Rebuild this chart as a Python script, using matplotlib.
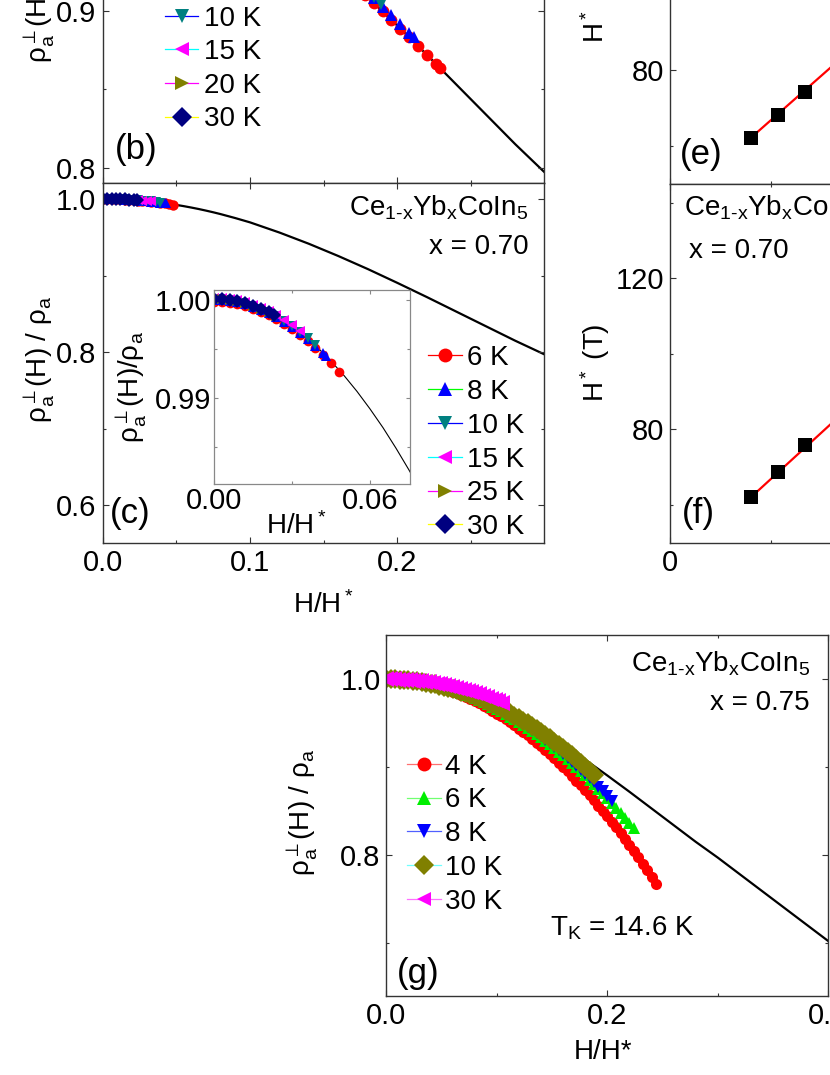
import matplotlib
matplotlib.use('Agg')
import matplotlib.pyplot as plt
from matplotlib.lines import Line2D
from matplotlib.ticker import MultipleLocator, FormatStrFormatter

plt.rcParams['font.family'] = ['Liberation Sans', 'DejaVu Sans']
plt.rcParams['mathtext.fontset'] = 'custom'
plt.rcParams['mathtext.rm'] = 'Liberation Sans'
plt.rcParams['mathtext.it'] = 'Liberation Sans:italic'
plt.rcParams['mathtext.bf'] = 'Liberation Sans:bold'
plt.rcParams['mathtext.default'] = 'regular'
plt.rcParams['mathtext.fallback'] = 'stixsans'

# ---------------- data ----------------
# universal (single-ion) curve rho(H)/rho(0) vs H/H*
curve_x = [0.000, 0.010, 0.020, 0.030, 0.040, 0.045, 0.050, 0.055, 0.060, 0.065, 0.070, 0.075,
           0.080, 0.090, 0.100, 0.120, 0.140, 0.160, 0.180, 0.200, 0.220, 0.240, 0.260, 0.280,
           0.300, 0.320, 0.340, 0.360, 0.380, 0.400]
curve_y = [1.0000, 0.9997, 0.9988, 0.9972, 0.9951, 0.99376, 0.9923, 0.99068, 0.9889, 0.98699,
           0.9849, 0.98268, 0.9803, 0.9751, 0.9695, 0.9562, 0.9415, 0.9255, 0.9085, 0.8905,
           0.8720, 0.8530, 0.8340, 0.8150, 0.7970, 0.7780, 0.7590, 0.7400, 0.7210, 0.7020]

# panel (b): visible part only
b_x_6K = [0.160, 0.166, 0.172, 0.178, 0.184, 0.190, 0.196, 0.202, 0.208, 0.214, 0.220, 0.226, 0.229]
b_y_6K = [0.9255, 0.9205, 0.9153, 0.9102, 0.9050, 0.8996, 0.8941, 0.8887, 0.8831, 0.8776, 0.8720, 0.8663, 0.8635]
b_x_8K = [0.160, 0.166, 0.172, 0.178, 0.184, 0.190, 0.196, 0.202, 0.208, 0.211]
b_y_8K = [0.9285, 0.9235, 0.9183, 0.9132, 0.9080, 0.9026, 0.8971, 0.8917, 0.8861, 0.8830]
b_x_10K = [0.160, 0.166, 0.172, 0.178, 0.184, 0.189]
b_y_10K = [0.9290, 0.9240, 0.9188, 0.9137, 0.9085, 0.9045]
b_x_15K = [0.150, 0.160, 0.170]
b_y_15K = [0.936, 0.929, 0.921]
b_x_20K = [0.130, 0.140, 0.150]
b_y_20K = [0.952, 0.945, 0.937]
b_x_30K = [0.110, 0.120, 0.130]
b_y_30K = [0.966, 0.959, 0.952]

# panel (c) and its inset, x = 0.70
c_x_6K = [0.000, 0.003, 0.006, 0.009, 0.012, 0.015, 0.018, 0.021, 0.024, 0.027, 0.030, 0.033,
          0.036, 0.039, 0.042, 0.045, 0.048]
c_y_6K = [0.99980, 0.99977, 0.99969, 0.99955, 0.99936, 0.99911, 0.99880, 0.99844, 0.99803,
          0.99755, 0.99703, 0.99645, 0.99581, 0.99512, 0.99437, 0.99356, 0.99270]
c_x_8K = [0.000, 0.003, 0.006, 0.009, 0.012, 0.015, 0.018, 0.021, 0.024, 0.027, 0.030, 0.033,
          0.036, 0.039, 0.042, 0.043]
c_y_8K = [1.00000, 0.99997, 0.99989, 0.99975, 0.99956, 0.99931, 0.99900, 0.99864, 0.99823,
          0.99775, 0.99723, 0.99665, 0.99601, 0.99532, 0.99457, 0.99430]
c_x_10K = [0.000, 0.003, 0.006, 0.009, 0.012, 0.015, 0.018, 0.021, 0.024, 0.027, 0.030, 0.033,
           0.036, 0.039]
c_y_10K = [1.00010, 1.00007, 0.99999, 0.99985, 0.99966, 0.99941, 0.99910, 0.99874, 0.99833,
           0.99785, 0.99733, 0.99675, 0.99611, 0.99542]
c_x_15K = [0.000, 0.003, 0.006, 0.009, 0.012, 0.015, 0.018, 0.021, 0.024, 0.027, 0.030, 0.033]
c_y_15K = [1.00020, 1.00017, 1.00009, 0.99995, 0.99976, 0.99951, 0.99920, 0.99884, 0.99843,
           0.99795, 0.99743, 0.99685]
c_x_25K = [0.000, 0.003, 0.006, 0.009, 0.012, 0.015, 0.018, 0.021, 0.024]
c_y_25K = [1.00010, 1.00007, 0.99999, 0.99985, 0.99966, 0.99941, 0.99910, 0.99874, 0.99833]
c_x_30K = [0.000, 0.003, 0.006, 0.009, 0.012, 0.015, 0.018, 0.021, 0.023]
c_y_30K = [1.00010, 1.00007, 0.99999, 0.99985, 0.99966, 0.99941, 0.99910, 0.99874, 0.99847]

# panel (g), x = 0.75 (field sweeps read at H/H* steps of 0.004)
g_x_4K = [0.000, 0.004, 0.008, 0.012, 0.016, 0.020, 0.024, 0.028, 0.032, 0.036, 0.040, 0.044,
          0.048, 0.052, 0.056, 0.060, 0.064, 0.068, 0.072, 0.076, 0.080, 0.084, 0.088, 0.092,
          0.096, 0.100, 0.104, 0.108, 0.112, 0.116, 0.120, 0.124, 0.128, 0.132, 0.136, 0.140,
          0.144, 0.148, 0.152, 0.156, 0.160, 0.164, 0.168, 0.172, 0.176, 0.180, 0.184, 0.188,
          0.192, 0.196, 0.200, 0.204, 0.208, 0.212, 0.216, 0.220, 0.224, 0.228, 0.232, 0.236,
          0.240, 0.244]
g_y_4K = [1.0000, 0.9999, 0.9998, 0.9994, 0.9990, 0.9984, 0.9978, 0.9969, 0.9960, 0.9949,
          0.9938, 0.9924, 0.9910, 0.9895, 0.9878, 0.9860, 0.9840, 0.9820, 0.9798, 0.9775,
          0.9750, 0.9725, 0.9698, 0.9670, 0.9641, 0.9610, 0.9578, 0.9545, 0.9511, 0.9475,
          0.9438, 0.9400, 0.9361, 0.9320, 0.9279, 0.9236, 0.9191, 0.9146, 0.9099, 0.9051,
          0.9002, 0.8951, 0.8899, 0.8846, 0.8792, 0.8736, 0.8680, 0.8622, 0.8562, 0.8502,
          0.8440, 0.8377, 0.8313, 0.8247, 0.8180, 0.8112, 0.8043, 0.7973, 0.7901, 0.7828,
          0.7754, 0.7665]
g_x_6K = g_x_4K[:57]
g_y_6K = [1.0000, 0.9999, 0.9998, 0.9995, 0.9991, 0.9986, 0.9981, 0.9974, 0.9965, 0.9956,
          0.9946, 0.9935, 0.9922, 0.9909, 0.9894, 0.9878, 0.9862, 0.9844, 0.9825, 0.9805,
          0.9784, 0.9762, 0.9738, 0.9714, 0.9688, 0.9662, 0.9634, 0.9606, 0.9576, 0.9545,
          0.9513, 0.9480, 0.9446, 0.9411, 0.9375, 0.9338, 0.9299, 0.9260, 0.9219, 0.9177,
          0.9135, 0.9091, 0.9046, 0.9000, 0.8953, 0.8905, 0.8856, 0.8805, 0.8754, 0.8702,
          0.8648, 0.8593, 0.8538, 0.8481, 0.8423, 0.8364, 0.8304]
g_x_8K = g_x_4K[:52]
g_y_8K = [1.0000, 0.9999, 0.9998, 0.9995, 0.9992, 0.9987, 0.9981, 0.9974, 0.9966, 0.9957,
          0.9947, 0.9936, 0.9924, 0.9910, 0.9896, 0.9880, 0.9864, 0.9846, 0.9828, 0.9808,
          0.9788, 0.9766, 0.9743, 0.9719, 0.9694, 0.9668, 0.9641, 0.9613, 0.9584, 0.9553,
          0.9522, 0.9490, 0.9456, 0.9422, 0.9386, 0.9349, 0.9312, 0.9273, 0.9233, 0.9192,
          0.9150, 0.9107, 0.9063, 0.9018, 0.8972, 0.8924, 0.8876, 0.8827, 0.8776, 0.8725,
          0.8672, 0.8618]
g_x_10K = g_x_4K[:48]
g_y_10K = [1.0000, 1.0000, 0.9998, 0.9996, 0.9992, 0.9988, 0.9982, 0.9976, 0.9969, 0.9960,
           0.9951, 0.9941, 0.9929, 0.9917, 0.9904, 0.9889, 0.9874, 0.9858, 0.9841, 0.9823,
           0.9804, 0.9783, 0.9762, 0.9740, 0.9717, 0.9693, 0.9668, 0.9642, 0.9615, 0.9587,
           0.9558, 0.9528, 0.9497, 0.9465, 0.9432, 0.9398, 0.9363, 0.9328, 0.9291, 0.9253,
           0.9214, 0.9174, 0.9134, 0.9092, 0.9049, 0.9005, 0.8961, 0.8915]
g_x_30K = [0.0000, 0.0035, 0.0070, 0.0105, 0.0140, 0.0175, 0.0210, 0.0245, 0.0280, 0.0315,
           0.0350, 0.0385, 0.0420, 0.0455, 0.0490, 0.0525, 0.0560, 0.0595, 0.0630, 0.0665,
           0.0700, 0.0735, 0.0770, 0.0805, 0.0840, 0.0875, 0.0910, 0.0945, 0.0980, 0.1015,
           0.1050]
g_y_30K = [1.0000, 1.0000, 0.9999, 0.9997, 0.9995, 0.9993, 0.9989, 0.9985, 0.9981, 0.9976,
           0.9970, 0.9964, 0.9957, 0.9949, 0.9941, 0.9932, 0.9923, 0.9913, 0.9903, 0.9892,
           0.9880, 0.9868, 0.9855, 0.9841, 0.9827, 0.9812, 0.9797, 0.9781, 0.9765, 0.9748,
           0.9730]

# panels (e), (f): H* vs T
ef_T = [6, 8, 10]
e_H = [62.0, 68.1, 74.1]
f_H = [62.0, 68.8, 75.8]
fit_T = [6, 20]
e_fit_H = [62.1, 106.1]
f_fit_H = [62.0, 107.9]

# legend labels
b_labels = ['6 K', '8 K', '10 K', '15 K', '20 K', '30 K']
c_labels = ['6 K', '8 K', '10 K', '15 K', '25 K', '30 K']
g_labels = ['4 K', '6 K', '8 K', '10 K', '30 K']

# ---------------- styles ----------------
RED, BLUE, TEAL, MAG, OLIVE, NAVY, GREEN = '#ff0000', '#0000ff', '#008080', '#ff00ff', '#808000', '#000080', '#00ee00'
bc_markers = ['o', '^', 'v', '<', '>', 'D']
bc_mcolors = [RED, BLUE, TEAL, MAG, OLIVE, NAVY]
bc_lcolors = [RED, '#00ff00', BLUE, '#00ffff', MAG, '#ffff00']
g_markers = ['o', '^', 'v', 'D', '<']
g_mcolors = [RED, GREEN, BLUE, OLIVE, MAG]
g_lcolors = ['#ff7070', '#70ff70', '#5060ff', '#70ffff', '#ff70ff']

W, H = 830, 1075
FS = 20      # legend / annotation text
TFS = 21     # tick labels
fig = plt.figure(figsize=(W / 100, H / 100), dpi=100)


def rect(l, r, t, b):
    return [l / W, 1 - b / H, (r - l) / W, (b - t) / H]


def fx(x):
    return x / W


def fy(y):
    return 1 - y / H


def style(ax, pad=4.5, spine='#333333', lw=1.0, labelsize=TFS):
    ax.tick_params(which='both', direction='in', top=True, right=True, labelsize=labelsize,
                   pad=pad, width=0.8, color=spine)
    ax.tick_params(which='major', length=4)
    ax.tick_params(which='minor', length=2.5)
    for s in ax.spines.values():
        s.set_color(spine)
        s.set_linewidth(lw)


def handles(markers, mcolors, lcolors, ms):
    return [Line2D([], [], color=lc, lw=0.9, marker=m, ms=ms, mfc=mc, mec=mc, mew=0)
            for m, mc, lc in zip(markers, mcolors, lcolors)]


axb = fig.add_axes(rect(102.7, 544, -177, 183.3))
axc = fig.add_axes(rect(102.7, 544, 183.3, 542.7))
axi = fig.add_axes(rect(214, 410, 290, 484))
axe = fig.add_axes(rect(670, 670 + 32 * 13.5, -176.5, 183.5))
axf = fig.add_axes(rect(670, 670 + 32 * 13.5, 183.5, 542.5))
axg = fig.add_axes(rect(386.3, 828.3, 635, 996))

XMAX_BC = 0.2995

# ---- panel (b)
axb.plot(curve_x, curve_y, color='black', lw=1.6, zorder=1)
for (xs, ys), m, mc in zip([(b_x_6K, b_y_6K), (b_x_8K, b_y_8K), (b_x_10K, b_y_10K),
                            (b_x_15K, b_y_15K), (b_x_20K, b_y_20K), (b_x_30K, b_y_30K)],
                           bc_markers, bc_mcolors):
    axb.plot(xs, ys, ls='none', marker=m, ms=8.5, mfc=mc, mec=mc, mew=0, zorder=2)
axb.set_xlim(0, XMAX_BC)
axb.set_ylim(0.7901, 1.0196)
axb.xaxis.set_major_locator(MultipleLocator(0.1))
axb.xaxis.set_minor_locator(MultipleLocator(0.05))
axb.yaxis.set_major_locator(MultipleLocator(0.1))
axb.yaxis.set_minor_locator(MultipleLocator(0.05))
axb.yaxis.set_major_formatter(FormatStrFormatter('%.1f'))
style(axb)
axb.tick_params(labelbottom=False)
axb.set_ylabel('ρ$_a^{\\perp}$(H) / ρ$_a$', fontsize=FS)
axb.yaxis.set_label_coords(-0.1035, 0.51)
axb.legend(handles(bc_markers, bc_mcolors, bc_lcolors, 10), b_labels, loc='upper left',
           bbox_to_anchor=(fx(165), fy(-61.6)), bbox_transform=fig.transFigure,
           frameon=False, fontsize=FS, borderpad=0, borderaxespad=0, handlelength=1.2,
           handletextpad=0.2, labelspacing=0.273)

# ---- panel (c)
axc.plot(curve_x, curve_y, color='black', lw=1.6, zorder=1)
c_series = [(c_x_6K, c_y_6K), (c_x_8K, c_y_8K), (c_x_10K, c_y_10K), (c_x_15K, c_y_15K),
            (c_x_25K, c_y_25K), (c_x_30K, c_y_30K)]
for (xs, ys), m, mc in zip(c_series, bc_markers, bc_mcolors):
    axc.plot(xs, ys, ls='none', marker=m, ms=7.5, mfc=mc, mec=mc, mew=0, zorder=2)
axc.set_xlim(0, XMAX_BC)
axc.set_ylim(0.5514, 1.0205)
axc.xaxis.set_major_locator(MultipleLocator(0.1))
axc.xaxis.set_minor_locator(MultipleLocator(0.05))
axc.yaxis.set_major_locator(MultipleLocator(0.2))
axc.yaxis.set_minor_locator(MultipleLocator(0.1))
axc.xaxis.set_major_formatter(FormatStrFormatter('%.1f'))
axc.yaxis.set_major_formatter(FormatStrFormatter('%.1f'))
style(axc)
axc.set_ylabel('ρ$_a^{\\perp}$(H) / ρ$_a$', fontsize=FS)
axc.yaxis.set_label_coords(-0.1035, 0.51)
axc.set_xlabel('H/H$^*$', fontsize=FS, va='top')
axc.xaxis.set_label_coords(0.5, -0.135)
axc.legend(handles(bc_markers, bc_mcolors, bc_lcolors, 10), c_labels, loc='upper left',
           bbox_to_anchor=(fx(427.7), fy(345.2)), bbox_transform=fig.transFigure,
           frameon=False, fontsize=FS, borderpad=0, borderaxespad=0, handlelength=1.22,
           handletextpad=0.2, labelspacing=0.28)

# ---- inset of (c)
axi.plot(curve_x, curve_y, color='black', lw=0.8, zorder=1)
for (xs, ys), m, mc in zip(c_series, bc_markers, bc_mcolors):
    axi.plot(xs, ys, ls='none', marker=m, ms=7, mfc=mc, mec=mc, mew=0, zorder=2)
axi.set_xlim(0, 0.0754)
axi.set_ylim(0.98125, 1.001)
axi.xaxis.set_major_locator(MultipleLocator(0.06))
axi.xaxis.set_minor_locator(MultipleLocator(0.03))
axi.yaxis.set_major_locator(MultipleLocator(0.01))
axi.yaxis.set_minor_locator(MultipleLocator(0.005))
axi.xaxis.set_major_formatter(FormatStrFormatter('%.2f'))
axi.yaxis.set_major_formatter(FormatStrFormatter('%.2f'))
style(axi, pad=2, spine='#888888', lw=0.9)
axi.tick_params(which='major', length=3)
axi.tick_params(which='minor', length=2)
axi.set_ylabel('ρ$_a^{\\perp}$(H)/ρ$_a$', fontsize=FS)
axi.yaxis.set_label_coords(-0.33, 0.5)
axi.set_xlabel('H/H$^*$', fontsize=FS, va='top')
axi.xaxis.set_label_coords(0.42, -0.145)

# ---- panel (e)
axe.plot(fit_T, e_fit_H, color='#ff0000', lw=1.6, zorder=1)
axe.plot(ef_T, e_H, ls='none', marker='s', ms=9.5, mfc='black', mec='black', mew=0, zorder=2)
axe.set_xlim(0, 32)
axe.set_ylim(50, 145.1)
axe.xaxis.set_major_locator(MultipleLocator(15))
axe.xaxis.set_minor_locator(MultipleLocator(7.5))
axe.yaxis.set_major_locator(MultipleLocator(40))
axe.yaxis.set_minor_locator(MultipleLocator(20))
style(axe)
axe.tick_params(labelbottom=False)
axe.set_ylabel('H$^*$ (T)', fontsize=FS)
axe.yaxis.set_label_coords(-0.134, 0.5)

# ---- panel (f)
axf.plot(fit_T, f_fit_H, color='#ff0000', lw=1.6, zorder=1)
axf.plot(ef_T, f_H, ls='none', marker='s', ms=9.5, mfc='black', mec='black', mew=0, zorder=2)
axf.set_xlim(0, 32)
axf.set_ylim(50, 145.1)
axf.xaxis.set_major_locator(MultipleLocator(15))
axf.xaxis.set_minor_locator(MultipleLocator(7.5))
axf.yaxis.set_major_locator(MultipleLocator(40))
axf.yaxis.set_minor_locator(MultipleLocator(20))
style(axf)
axf.set_ylabel('H$^*$ (T)', fontsize=FS)
axf.yaxis.set_label_coords(-0.134, 0.5)

# ---- panel (g)
axg.plot(curve_x, curve_y, color='black', lw=1.6, zorder=1)
g_series = [(g_x_4K, g_y_4K), (g_x_6K, g_y_6K), (g_x_8K, g_y_8K), (g_x_10K, g_y_10K),
            (g_x_30K, g_y_30K)]
g_ms = [8.0, 9.0, 9.0, 10.5, 11.0]
for (xs, ys), m, mc, ms in zip(g_series, g_markers, g_mcolors, g_ms):
    axg.plot(xs, ys, ls='none', marker=m, ms=ms, mfc=mc, mec=mc, mew=0, zorder=2)
axg.set_xlim(0, 0.4)
axg.set_ylim(0.6395, 1.0504)
axg.xaxis.set_major_locator(MultipleLocator(0.2))
axg.xaxis.set_minor_locator(MultipleLocator(0.1))
axg.yaxis.set_major_locator(MultipleLocator(0.2))
axg.yaxis.set_minor_locator(MultipleLocator(0.1))
axg.xaxis.set_major_formatter(FormatStrFormatter('%.1f'))
axg.yaxis.set_major_formatter(FormatStrFormatter('%.1f'))
style(axg, pad=4)
axg.set_ylabel('ρ$_a^{\\perp}$(H) / ρ$_a$', fontsize=FS)
axg.yaxis.set_label_coords(-0.15, 0.51)
axg.set_xlabel('H/H*', fontsize=FS, va='top')
axg.xaxis.set_label_coords(0.491, -0.12)
axg.legend(handles(g_markers, g_mcolors, g_lcolors, 10), g_labels, loc='upper left',
           bbox_to_anchor=(fx(407.4), fy(753.5)), bbox_transform=fig.transFigure,
           frameon=False, fontsize=FS, borderpad=0, borderaxespad=0, handlelength=1.2,
           handletextpad=0.15, labelspacing=0.28)

# ---- annotations
comp = 'Ce$_{1\\text{-}x}$Yb$_x$CoIn$_5$'
fig.text(fx(528.4), fy(215), comp, ha='right', va='baseline', fontsize=FS)
fig.text(fx(528.4), fy(254), 'x = 0.70', ha='right', va='baseline', fontsize=FS)
fig.text(fx(810), fy(671.7), comp, ha='right', va='baseline', fontsize=FS)
fig.text(fx(810), fy(710), 'x = 0.75', ha='right', va='baseline', fontsize=FS)
fig.text(fx(684.3), fy(215.6), comp, ha='left', va='baseline', fontsize=FS)
fig.text(fx(689.3), fy(257.6), 'x = 0.70', ha='left', va='baseline', fontsize=FS)
fig.text(fx(550), fy(935), 'T$_K$ = 14.6 K', ha='left', va='baseline', fontsize=FS)

PFS = 25
fig.text(fx(115), fy(159.3), '(b)', ha='left', va='baseline', fontsize=PFS)
fig.text(fx(110), fy(522.6), '(c)', ha='left', va='baseline', fontsize=PFS)
fig.text(fx(396.7), fy(982.6), '(g)', ha='left', va='baseline', fontsize=PFS)
fig.text(fx(680), fy(164.3), '(e)', ha='left', va='baseline', fontsize=PFS)
fig.text(fx(681.7), fy(523), '(f)', ha='left', va='baseline', fontsize=PFS)

fig.savefig('out.png', dpi=100)
